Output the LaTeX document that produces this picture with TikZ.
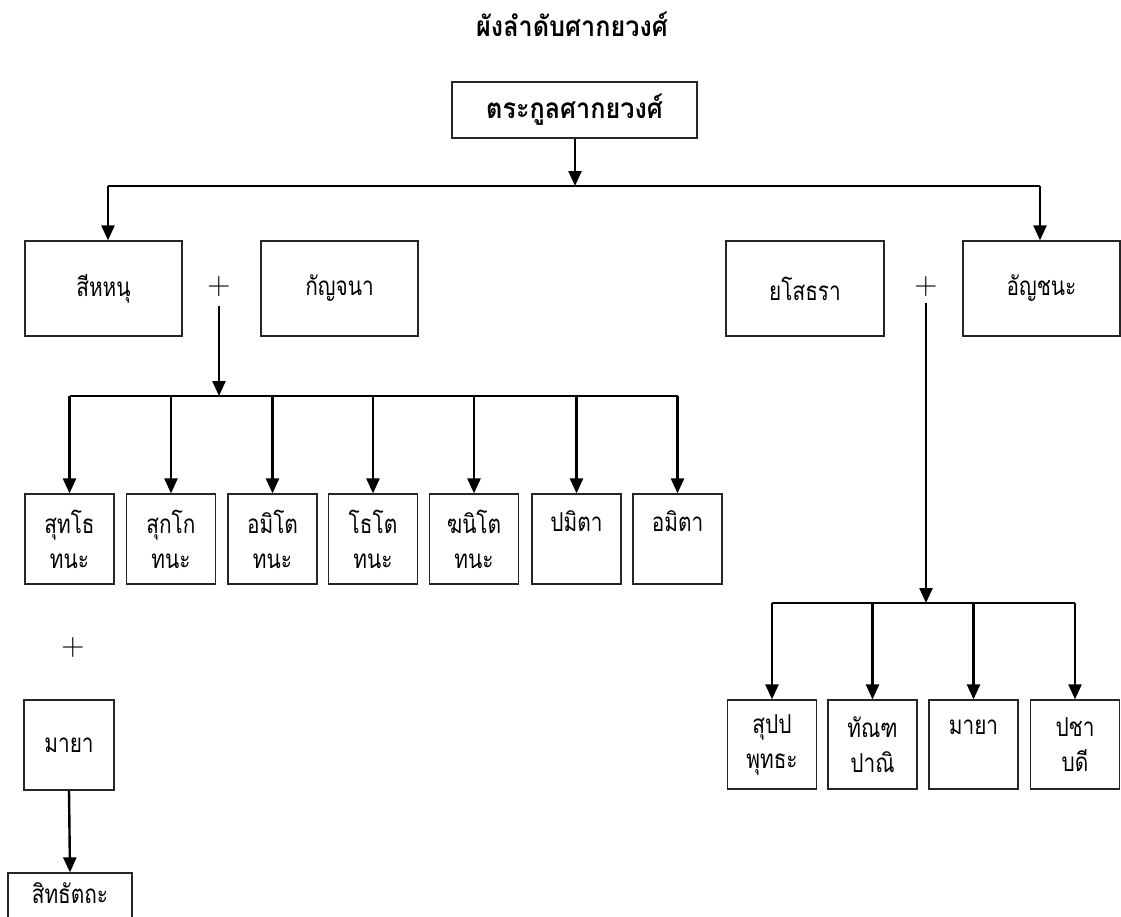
\documentclass[tikz,border=0pt]{standalone}
\usepackage{fontspec}
\newfontfamily\thai[Script=Thai, FakeStretch=0.8]{Loma}
\newfontfamily\thaib[Script=Thai, FakeStretch=0.9]{Loma}
\usetikzlibrary{arrows.meta}
\tikzset{
  box/.style={draw=black!85, line width=1.2pt, inner sep=0pt, align=center,
    font=\thai\fontsize{26}{35}\selectfont},
  conn/.style={line width=2.4pt, draw=black},
  arr/.style={conn, -{Triangle[width=13pt,length=15pt]}},
  plus/.style={inner sep=0pt, font=\fontsize{32}{32}\selectfont},
  title/.style={inner sep=0pt, font=\thaib\bfseries\fontsize{28}{30}\selectfont}
}
\begin{document}
\begin{tikzpicture}[x=1pt,y=-1pt]
\useasboundingbox (0,0) rectangle (1121,916);
\clip (0,0) rectangle (1121,916);
% title
\node[title] (ttl) at (572,24) {ผังลำดับศากยวงศ์};
\node[box, font=\thaib\bfseries\fontsize{28}{30}\selectfont, minimum width=245pt, minimum height=56pt] (root) at (574.5,110) {ตระกูลศากยวงศ์};
% second level
\node[box, minimum width=157pt, minimum height=95pt] (sihanu) at (103.5,288.5) {สีหหนุ};
\node[box, minimum width=157pt, minimum height=95pt] (kanjana) at (339.5,288.5) {กัญจนา};
\node[box, minimum width=158pt, minimum height=95pt] (yasodhara) at (805,288.5) {ยโสธรา};
\node[box, minimum width=157pt, minimum height=95pt] (anchana) at (1041.5,288.5) {อัญชนะ};
\node[plus] (plusA) at (219,287) {+};
\node[plus] (plusB) at (926,287) {+};
% top connectors
\coordinate (rootbar) at (575,186);
\coordinate (barL) at (108,186);
\coordinate (barR) at (1040,186);
\draw[arr] (root.south -| rootbar) -- (rootbar);
\draw[conn] (barL) -- (barR);
\draw[arr] (barL) -- (sihanu.north -| barL);
\draw[arr] (barR) -- (anchana.north -| barR);
% children of sihanu + kanjana
\foreach \n/\x/\t in {c1/69.5/{สุทโธ\\ทนะ}, c2/171/{สุกโก\\ทนะ}, c3/272.5/{อมิโต\\ทนะ},
  c4/373/{โธโต\\ทนะ}, c5/474/{ฆนิโต\\ทนะ}, c6/576.5/{ปมิตา\\\mbox{}}, c7/677.5/{อมิตา\\\mbox{}}}
  \node[box, minimum width=89pt, minimum height=90pt] (\n) at (\x,539) {\t};
\coordinate (pA) at (219,306);
\coordinate (barA) at (219,396);
\draw[arr] (pA) -- (barA);
\draw[conn] (barA -| c1) -- (barA -| c7);
\foreach \n in {c1,c2,c3,c4,c5,c6,c7}
  \draw[arr] (barA -| \n) -- (\n.north);
% maya (left) and siddhattha
\node[plus] (plusC) at (73,648) {+};
\node[box, minimum width=90pt, minimum height=90pt] (mayaL) at (69,745) {มายา};
\node[box, minimum width=124pt, minimum height=50pt, text height=14pt, text depth=4pt] (sid) at (70,898) {สิทธัตถะ};
\draw[arr] (mayaL.south) -- (sid.north);
% children of yasodhara
\foreach \n/\x/\t in {d1/772/{สุปป\\พุทธะ}, d2/872.5/{ทัณฑ\\ปาณิ}, d3/973.5/{มายา\\\mbox{}}, d4/1075/{ปชา\\บดี}}
  \node[box, minimum width=89pt, minimum height=89pt] (\n) at (\x,744.5) {\t};
\coordinate (pB) at (926,303);
\coordinate (barB) at (926,603);
\draw[arr] (pB) -- (barB);
\draw[conn] (barB -| d1) -- (barB -| d4);
\foreach \n in {d1,d2,d3,d4}
  \draw[arr] (barB -| \n) -- (\n.north);
\end{tikzpicture}
\end{document}
